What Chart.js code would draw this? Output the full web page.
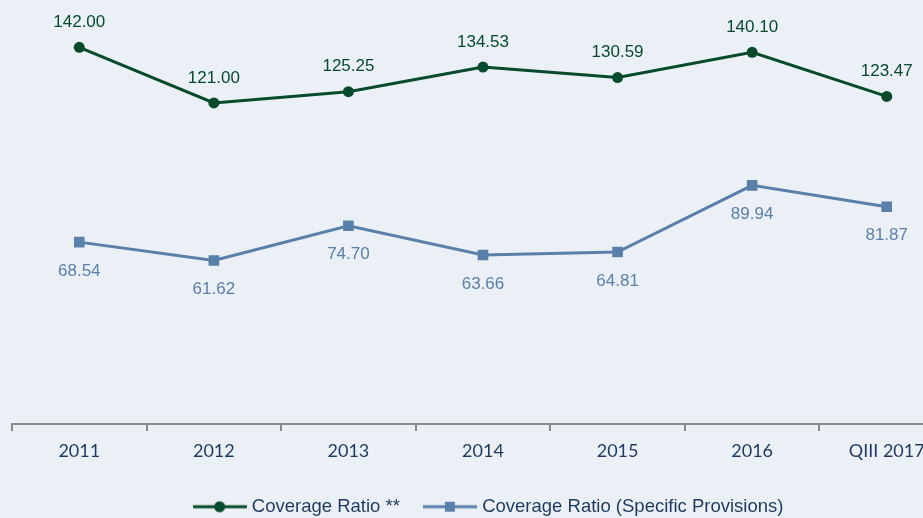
<!DOCTYPE html>
<html>
<head>
<meta charset="utf-8">
<script src="https://cdn.jsdelivr.net/npm/chart.js@4"></script>
<style>
  html, body { margin: 0; padding: 0; background: #ebf0f7; overflow: hidden; }
  #wrap { width: 962px; height: 526px; position: relative; }
</style>
</head>
<body>
<div id="wrap"><canvas id="coverage" width="962" height="526"></canvas></div>
<script>
var years = ['2011', '2012', '2013', '2014', '2015', '2016', 'QIII 2017'];
var coverageRatio = [142.00, 121.00, 125.25, 134.53, 130.59, 140.10, 123.47];
var specificProvisions = [68.54, 61.62, 74.70, 63.66, 64.81, 89.94, 81.87];

var green = '#074a2c';
var blue = '#5a7fa9';
var navy = '#1f3a5e';

// legend marker: short line with the point symbol in the middle
function legendMark(color, square) {
  var c = document.createElement('canvas');
  c.width = 54; c.height = 14;
  var g = c.getContext('2d');
  g.strokeStyle = color; g.lineWidth = 3;
  g.beginPath(); g.moveTo(0, 7); g.lineTo(54, 7); g.stroke();
  g.fillStyle = color;
  if (square) { g.fillRect(22, 2, 10, 10); }
  else { g.beginPath(); g.arc(27, 7, 5.5, 0, Math.PI * 2); g.fill(); }
  return c;
}

// value labels: above the green line, below the blue one
var valueLabels = {
  id: 'valueLabels',
  afterLayout: function(chart) {
    // legend sits a little right of centre in the original
    chart.legend.left += 7;
    chart.legend.right += 7;
  },
  afterDatasetsDraw: function(chart) {
    var ctx = chart.ctx;
    ctx.save();
    ctx.font = '17px "Liberation Sans", Arial, sans-serif';
    ctx.textAlign = 'center';
    ctx.textBaseline = 'middle';
    chart.data.datasets.forEach(function(ds, i) {
      chart.getDatasetMeta(i).data.forEach(function(pt, j) {
        ctx.fillStyle = ds.borderColor;
        var dy = i === 0 ? -25 : 29;
        ctx.fillText(ds.data[j].toFixed(2), pt.x, pt.y + dy);
      });
    });
    ctx.restore();
  }
};

var ctx = document.getElementById('coverage').getContext('2d');
var coverage_chart = new Chart(ctx, {
  type: 'line',
  data: {
    labels: years,
    datasets: [{
      label: 'Coverage Ratio **',
      data: coverageRatio,
      borderColor: green,
      backgroundColor: green,
      borderWidth: 3,
      pointRadius: 5.5,
      pointStyle: 'circle',
      pointBackgroundColor: green,
      pointBorderWidth: 0,
      tension: 0
    }, {
      label: 'Coverage Ratio (Specific Provisions)',
      data: specificProvisions,
      borderColor: blue,
      backgroundColor: blue,
      borderWidth: 3,
      pointRadius: 7.5,
      pointStyle: 'rect',
      pointBackgroundColor: blue,
      pointBorderWidth: 0,
      tension: 0
    }]
  },
  options: {
    responsive: false,
    animation: false,
    maintainAspectRatio: false,
    layout: { padding: { left: 12, right: 8, top: 4, bottom: 0 } },
    scales: {
      x: {
        offset: true,
        grid: { offset: true, drawOnChartArea: false, color: '#8a8a8a', tickLength: 7, lineWidth: 2 },
        border: { display: true, color: '#8a8a8a', width: 2 },
        ticks: { color: navy, padding: 9, maxRotation: 0, font: { family: 'Lato, "Open Sans", sans-serif', size: 18 } }
      },
      y: {
        display: false,
        min: 0,
        max: 157
      }
    },
    plugins: {
      tooltip: { enabled: false },
      legend: {
        position: 'bottom',
        labels: {
          color: navy,
          padding: 27,
          font: { family: '"Liberation Sans", Arial, sans-serif', size: 18.5 },
          usePointStyle: true,
          pointStyleWidth: 46,
          generateLabels: function(chart) {
            return chart.data.datasets.map(function(ds, i) {
              return {
                text: ds.label,
                fillStyle: ds.borderColor,
                strokeStyle: ds.borderColor,
                lineWidth: 0,
                pointStyle: legendMark(ds.borderColor, i === 1),
                fontColor: navy,
                datasetIndex: i
              };
            });
          }
        }
      }
    }
  },
  plugins: [valueLabels]
});
</script>
</body>
</html>
